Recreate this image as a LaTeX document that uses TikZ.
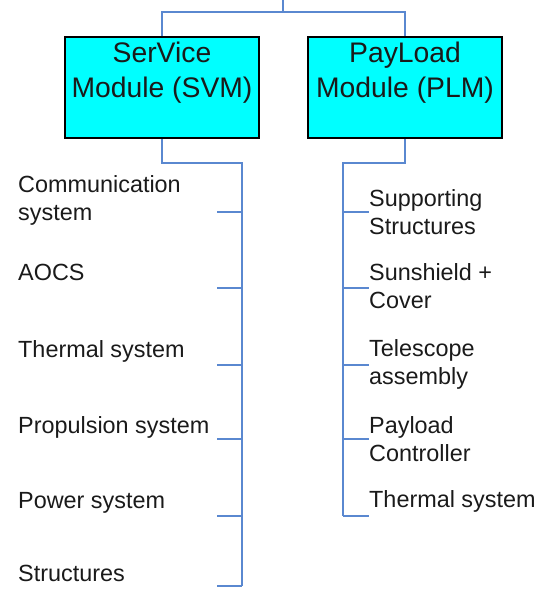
\documentclass[tikz,border=0pt]{standalone}
\usepackage{fontspec}
\setmainfont{Liberation Sans}
\definecolor{linkblue}{HTML}{5A88D0}
\definecolor{boxcyan}{HTML}{00FFFF}
\definecolor{txtgray}{HTML}{1A1A1A}
\begin{document}
\begin{tikzpicture}[x=1pt,y=-1pt,
  conn/.style={draw=linkblue, line width=1.5pt},
  modbox/.style={draw=black, line width=2pt, fill=boxcyan, minimum width=194pt, minimum height=101pt, inner sep=0pt},
  modtext/.style={align=center, text=txtgray, font=\fontsize{28.3}{35}\selectfont, inner sep=0pt, anchor=base},
  lbl/.style={align=left, text=txtgray, font=\fontsize{23.4}{28}\selectfont, inner sep=0pt, anchor=base west}]
\useasboundingbox (0,0) rectangle (540,590);
% boxes
\node[modbox] (svm) at (162,87.5) {};
\node[modbox] (plm) at (405,87.5) {};
\node[modtext] (svmt) at (162,97) {SerVice\\Module (SVM)};
\node[modtext] (plmt) at (405,97) {PayLoad\\Module (PLM)};
% top connector
\coordinate (top) at (283,0);
\coordinate (topj) at (283,12);
\draw[conn] (top) -- (topj) -| (svm.north);
\draw[conn] (topj) -| (plm.north);
% SVM bus
\coordinate (sbus0) at (242,163);
\coordinate (sbus1) at (242,586);
\draw[conn] (svm.south) |- (sbus0) -- (sbus1);
\foreach \y/\n in {212/a,288/b,365/c,439/d,516/e,586/f}{
  \coordinate (st\n) at (217,\y);
  \draw[conn] (st\n) -- (242,\y);
}
% PLM bus
\coordinate (pbus0) at (343,163);
\coordinate (pbus1) at (343,516);
\draw[conn] (plm.south) |- (pbus0) -- (pbus1);
\foreach \y/\n in {212/a,288/b,365/c,439/d,516/e}{
  \coordinate (pt\n) at (369,\y);
  \draw[conn] (343,\y) -- (pt\n);
}
% left labels
\node[lbl] (l1) at (18,220) {Communication\\system};
\node[lbl] (l2) at (18,280) {AOCS};
\node[lbl] (l3) at (18,357) {Thermal system};
\node[lbl] (l4) at (18,433) {Propulsion system};
\node[lbl] (l5) at (18,508) {Power system};
\node[lbl] (l6) at (18,581) {Structures};
% right labels
\node[lbl] (r1) at (369,234) {Supporting\\Structures};
\node[lbl] (r2) at (369,308) {Sunshield +\\Cover};
\node[lbl] (r3) at (369,384) {Telescope\\assembly};
\node[lbl] (r4) at (369,461) {Payload\\Controller};
\node[lbl] (r5) at (369,507) {Thermal system};
\end{tikzpicture}
\end{document}
